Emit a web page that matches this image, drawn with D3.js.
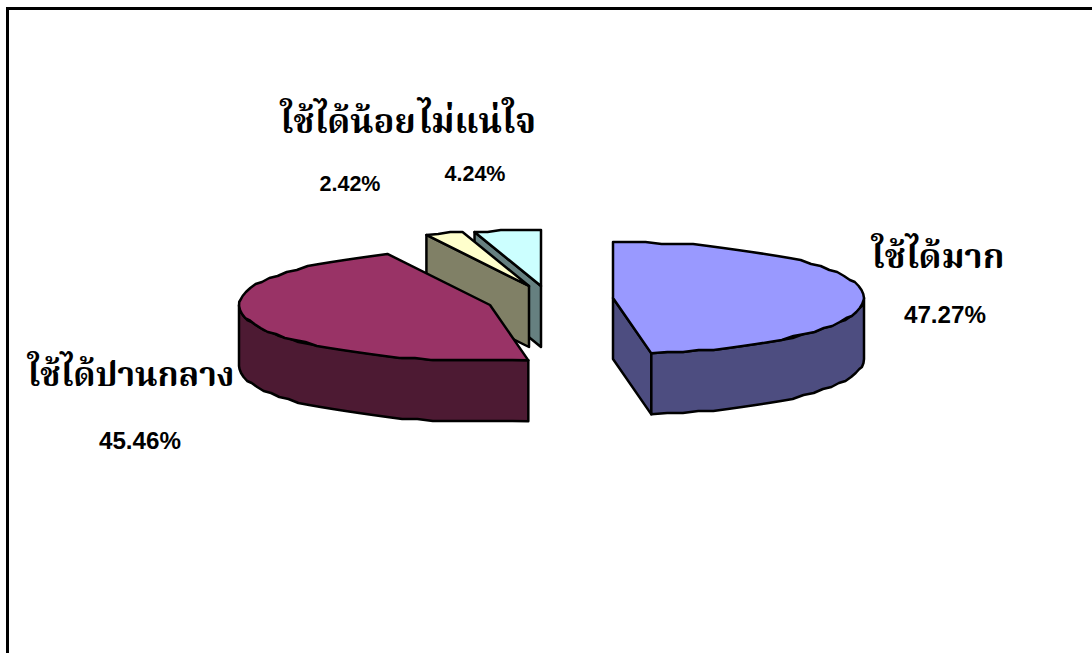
<!DOCTYPE html>
<html><head><meta charset="utf-8">
<style>html,body{margin:0;padding:0;background:#fff}svg{display:block}</style>
<script src="https://cdn.jsdelivr.net/npm/d3@7"></script></head><body>
<svg id="c" width="1092" height="653"></svg>
<script>
const categories=["ใช้ได้มาก","ใช้ได้ปานกลาง","ใช้ได้น้อย","ไม่แน่ใจ"];
const values=[47.27,45.46,2.42,4.24];
const valueLabels=["47.27%","45.46%","2.42%","4.24%"];
const topColors=["#9999FF","#993366","#FFFFCC","#CCFFFF"];
const sideColors=["#4D4D80","#4D1A33","#808066","#668080"];
const centers=[[613,298],[490,305],[529,286],[541,286]];
const labelPos=[[938,268,34.5],[131,386,33.5],[348,133,34.5],[477,133,35]];
const pctPos=[[945,323,24.2],[140,449,24.2],[350,191,21.5],[475,181,21.5]];
const rx=251,ry=56,depth=61,step=Math.PI/48,grid=2;
const svg=d3.select("#c");
svg.append("rect").attr("x",7.5).attr("y",8.5).attr("width",1200).attr("height",800)
  .attr("fill","#fff").attr("stroke","#000").attr("stroke-width",3);
const arcs=d3.pie().sort(null)(values);
const line=d3.line();
function sx(i,a){return centers[i][0]+rx*Math.sin(a)}
function sy(i,a){return centers[i][1]-ry*Math.cos(a)}
function pts(i,a0,a1,dy=0){
  const n=Math.max(1,Math.ceil((a1-a0)/step)),out=[];
  d3.range(n+1).forEach(k=>{
    const a=a0+(a1-a0)*k/n;
    const y=(k===0||k===n)?sy(i,a):Math.round(sy(i,a)/grid)*grid;
    out.push([sx(i,a),y+dy]);
  });
  return out;
}
function shape(points,fill){
  svg.append("path").attr("d",line(points)+"Z").attr("fill",fill)
    .attr("stroke","#000").attr("stroke-width",2.5).attr("stroke-linejoin","round");
}
function drawSlice(i){
  const a0=arcs[i].startAngle,a1=arcs[i].endAngle,c=centers[i];
  if(i===0){
    const e=[sx(i,a1),sy(i,a1)];
    shape([c,e,[e[0],e[1]+depth],[c[0],c[1]+depth]],sideColors[i]);
  }
  if(i>=2){
    const e=[sx(i,a0),sy(i,a0)];
    shape([e,c,[c[0],c[1]+depth],[e[0],e[1]+depth]],sideColors[i]);
  }
  const from=Math.max(a0,Math.PI/2),to=Math.min(a1,Math.PI*1.5);
  if(to>from){
    shape(pts(i,from,to).concat(pts(i,from,to,depth).reverse()),sideColors[i]);
  }
  shape([c].concat(pts(i,a0,a1)),topColors[i]);
}
[3,2,1,0].forEach(drawSlice);
categories.forEach((t,i)=>{
  svg.append("text").attr("x",labelPos[i][0]).attr("y",labelPos[i][1]).attr("text-anchor","middle")
    .attr("font-family","'Noto Sans','Noto Serif Thai','DejaVu Sans',sans-serif").attr("font-weight","700")
    .attr("font-size",labelPos[i][2]).attr("fill","#000").text(t);
  svg.append("text").attr("x",pctPos[i][0]).attr("y",pctPos[i][1]).attr("text-anchor","middle")
    .attr("font-family","'Liberation Sans',Arial,sans-serif").attr("font-weight","700")
    .attr("font-size",pctPos[i][2]).attr("fill","#000").text(valueLabels[i]);
});
</script></body></html>
